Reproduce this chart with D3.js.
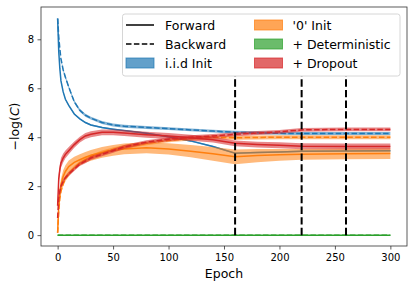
<!DOCTYPE html>
<html>
<head>
    <script src="https://d3js.org/d3.v7.min.js"></script>
    <style>
        body { margin: 0; background: #fff; }
        text { font-family: "DejaVu Sans", sans-serif; fill: #000; }
    </style>
</head>
<body>
<script>
    const epochs = [0, 1, 2, 3, 5, 7, 10, 15, 20, 25, 30, 40, 50, 60, 80, 100, 120, 140, 160, 180, 200, 220, 260, 300];

    const iidFwd = [8.85, 7.5, 6.8, 6.3, 5.85, 5.55, 5.3, 4.95, 4.75, 4.6, 4.5, 4.4, 4.33, 4.27, 4.16, 4.02, 3.85, 3.62, 3.35, 3.38, 3.4, 3.43, 3.44, 3.45];
    const iidBwd = [8.85, 8.1, 7.6, 7.2, 6.75, 6.45, 6.05, 5.45, 5.1, 4.9, 4.78, 4.6, 4.5, 4.45, 4.4, 4.35, 4.3, 4.25, 4.2, 4.18, 4.16, 4.15, 4.15, 4.15];
    const iidFwdSd = [0, 0.03, 0.03, 0.03, 0.03, 0.03, 0.03, 0.03, 0.03, 0.03, 0.03, 0.03, 0.03, 0.03, 0.03, 0.03, 0.03, 0.03, 0.03, 0.03, 0.03, 0.03, 0.03, 0.03];
    const iidBwdSd = [0, 0.06, 0.06, 0.06, 0.06, 0.06, 0.06, 0.06, 0.06, 0.06, 0.06, 0.06, 0.06, 0.06, 0.06, 0.06, 0.06, 0.06, 0.06, 0.06, 0.06, 0.06, 0.06, 0.06];

    const zeroFwd = [0.1, 1.2, 1.75, 2.05, 2.4, 2.6, 2.8, 2.97, 3.08, 3.18, 3.26, 3.38, 3.46, 3.52, 3.57, 3.52, 3.43, 3.32, 3.2, 3.25, 3.28, 3.3, 3.32, 3.33];
    const zeroBwd = [0.1, 1.0, 1.5, 1.8, 2.1, 2.3, 2.5, 2.75, 2.95, 3.08, 3.2, 3.38, 3.5, 3.6, 3.75, 3.87, 3.95, 4.0, 3.98, 3.99, 4.0, 4.0, 4.0, 4.0];
    const zeroFwdSd = [0.05, 0.2, 0.25, 0.25, 0.25, 0.25, 0.25, 0.23, 0.22, 0.22, 0.22, 0.22, 0.22, 0.22, 0.22, 0.23, 0.25, 0.28, 0.3, 0.27, 0.24, 0.22, 0.22, 0.22];
    const zeroBwdSd = [0.05, 0.1, 0.1, 0.1, 0.1, 0.1, 0.1, 0.08, 0.08, 0.08, 0.08, 0.08, 0.08, 0.08, 0.08, 0.08, 0.08, 0.08, 0.08, 0.08, 0.08, 0.08, 0.08, 0.08];

    const detFwd = [0, 0, 0, 0, 0, 0, 0, 0, 0, 0, 0, 0, 0, 0, 0, 0, 0, 0, 0, 0, 0, 0, 0, 0];
    const detBwd = [0, 0, 0, 0, 0, 0, 0, 0, 0, 0, 0, 0, 0, 0, 0, 0, 0, 0, 0, 0, 0, 0, 0, 0];

    const dropFwd = [1.2, 2.3, 2.7, 2.95, 3.15, 3.3, 3.45, 3.7, 3.9, 4.05, 4.12, 4.2, 4.2, 4.17, 4.1, 4.05, 3.98, 3.9, 3.75, 3.7, 3.67, 3.63, 3.62, 3.62];
    const dropBwd = [0.7, 1.5, 1.8, 2.0, 2.2, 2.35, 2.5, 2.7, 2.9, 3.02, 3.15, 3.3, 3.45, 3.6, 3.8, 3.92, 4.0, 4.05, 4.12, 4.17, 4.22, 4.3, 4.32, 4.32];
    const dropFwdSd = [0.1, 0.2, 0.2, 0.2, 0.18, 0.16, 0.15, 0.13, 0.12, 0.12, 0.12, 0.12, 0.12, 0.12, 0.12, 0.12, 0.12, 0.12, 0.12, 0.12, 0.12, 0.12, 0.12, 0.12];
    const dropBwdSd = [0.05, 0.08, 0.08, 0.08, 0.08, 0.08, 0.08, 0.08, 0.08, 0.08, 0.08, 0.08, 0.08, 0.08, 0.08, 0.08, 0.08, 0.08, 0.08, 0.08, 0.08, 0.08, 0.08, 0.08];

    const lrSteps = [160, 220, 260];
    const xTicks = [0, 50, 100, 150, 200, 250, 300];
    const yTicks = [0, 2, 4, 6, 8];

    const methods = [
        { name: 'i.i.d Init', color: '#1f77b4', fwd: iidFwd, bwd: iidBwd, fwdSd: iidFwdSd, bwdSd: iidBwdSd },
        { name: "'0' Init", color: '#ff7f0e', fwd: zeroFwd, bwd: zeroBwd, fwdSd: zeroFwdSd, bwdSd: zeroBwdSd },
        { name: '+ Dropout', color: '#d62728', fwd: dropFwd, bwd: dropBwd, fwdSd: dropFwdSd, bwdSd: dropBwdSd },
        { name: '+ Deterministic', color: '#2ca02c', fwd: detFwd, bwd: detBwd, fwdSd: null, bwdSd: null }
    ];

    const width = 415;
    const height = 289;
    const margin = { top: 7, right: 8, bottom: 43, left: 41 };
    const w = width - margin.left - margin.right;
    const h = height - margin.top - margin.bottom;

    const svg = d3.select('body').append('svg')
        .attr('width', width)
        .attr('height', height);
    const g = svg.append('g')
        .attr('transform', `translate(${margin.left},${margin.top})`);

    const x = d3.scaleLinear().domain([-15, 315]).range([0, w]);
    const y = d3.scaleLinear().domain([-0.444, 9.32]).range([h, 0]);

    const line = d3.line().x(d => x(d[0])).y(d => y(d[1]));
    const area = d3.area().x(d => x(d[0])).y0(d => y(d[1] - d[2])).y1(d => y(d[1] + d[2]));

    const plot = g.append('g');
    methods.forEach(m => {
        [['fwd', 'fwdSd', null], ['bwd', 'bwdSd', '5.5,2.4']].forEach(([k, sk, dash]) => {
            const pts = epochs.map((e, i) => [e, m[k][i], m[sk] ? m[sk][i] : 0]);
            if (m[sk]) {
                plot.append('path')
                    .attr('d', area(pts))
                    .attr('fill', m.color)
                    .attr('fill-opacity', 0.55);
            }
            plot.append('path')
                .attr('d', line(pts))
                .attr('fill', 'none')
                .attr('stroke', m.color)
                .attr('stroke-width', 1.5)
                .attr('stroke-dasharray', dash);
        });
    });

    // learning rate drops
    g.selectAll('.lr')
        .data(lrSteps)
        .enter()
        .append('line')
        .attr('x1', d => x(d)).attr('x2', d => x(d))
        .attr('y1', y(0)).attr('y2', y(6.5))
        .attr('stroke', '#000')
        .attr('stroke-width', 2)
        .attr('stroke-dasharray', '7.4,3.2');

    // axes
    const xAxis = g.append('g')
        .attr('transform', `translate(0,${h})`)
        .call(d3.axisBottom(x).tickValues(xTicks).tickSize(3.5).tickPadding(4.5));
    const yAxis = g.append('g')
        .call(d3.axisLeft(y).tickValues(yTicks).tickSize(3.5).tickPadding(3.5));
    [xAxis, yAxis].forEach(a => {
        a.select('.domain').remove();
        a.selectAll('text').style('font-size', '10px').style('font-family', '"DejaVu Sans", sans-serif');
        a.selectAll('line').attr('stroke', '#333').attr('stroke-width', 0.8);
    });

    g.append('rect')
        .attr('width', w).attr('height', h)
        .attr('fill', 'none')
        .attr('stroke', '#333')
        .attr('stroke-width', 0.8);

    svg.append('text')
        .attr('x', margin.left + w / 2)
        .attr('y', 278)
        .attr('text-anchor', 'middle')
        .style('font-size', '12.5px')
        .text('Epoch');

    const yl = svg.append('text')
        .attr('transform', `translate(18.5,${margin.top + h / 2}) rotate(-90)`)
        .attr('text-anchor', 'middle')
        .style('font-size', '12.5px');
    yl.append('tspan').text('\u2212log(');
    yl.append('tspan').style('font-style', 'italic').text('C');
    yl.append('tspan').text(')');

    // legend
    const leg = svg.append('g');
    leg.append('rect')
        .attr('x', 122.5).attr('y', 14)
        .attr('width', 277.5).attr('height', 62)
        .attr('rx', 2.5)
        .attr('fill', '#fff').attr('fill-opacity', 0.8)
        .attr('stroke', '#ccc').attr('stroke-width', 0.8);

    const rows = [25, 44, 63];
    const col1 = [
        { label: 'Forward', type: 'line', dash: null },
        { label: 'Backward', type: 'line', dash: '5.5,2.4' },
        { label: methods[0].name, type: 'patch', color: methods[0].color }
    ];
    const col2 = [methods[1], methods[3], methods[2]].map(m => ({ label: m.name, type: 'patch', color: m.color }));

    [[col1, 126, 165], [col2, 254.5, 292.5]].forEach(([items, hx, tx]) => {
        items.forEach((it, i) => {
            const cy = rows[i];
            if (it.type === 'line') {
                leg.append('line')
                    .attr('x1', hx).attr('x2', hx + 28)
                    .attr('y1', cy).attr('y2', cy)
                    .attr('stroke', '#000').attr('stroke-width', 1.5)
                    .attr('stroke-dasharray', it.dash);
            } else {
                leg.append('rect')
                    .attr('x', hx).attr('y', cy - 5)
                    .attr('width', 28).attr('height', 10)
                    .attr('fill', it.color).attr('fill-opacity', 0.7)
                    .attr('stroke', it.color).attr('stroke-opacity', 0.7);
            }
            leg.append('text')
                .attr('x', tx).attr('y', cy + 4.5)
                .style('font-size', '12.5px')
                .text(it.label);
        });
    });
</script>
</body>
</html>
